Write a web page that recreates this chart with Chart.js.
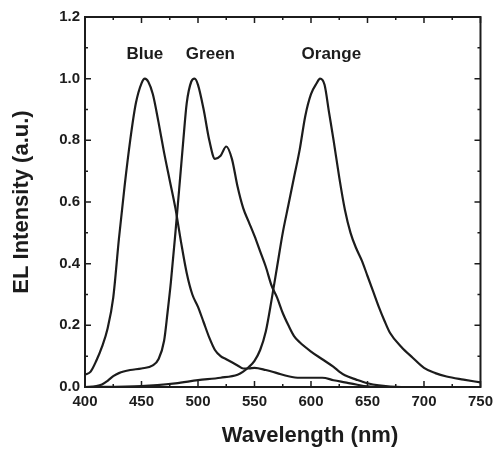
<!DOCTYPE html>
<html>
<head>
<meta charset="utf-8">
<script src="https://cdn.jsdelivr.net/npm/chart.js@4.4.1/dist/chart.umd.min.js"></script>
<style>
  html, body { margin: 0; padding: 0; background: #fff; }
  #wrap { width: 499px; height: 450px; }
</style>
</head>
<body>
<div id="wrap"><canvas id="elChart" width="499" height="450"></canvas></div>
<script>
// EL spectra (wavelength in nm, normalised intensity)
const blueNm = [400, 405, 410, 415, 420, 425, 430, 435, 440, 445, 450, 453, 456, 460, 465, 470, 475, 480, 485, 490, 495, 500, 505, 510, 515, 520, 525, 530, 535, 540, 545, 550, 560, 570, 580, 590, 600, 610, 620, 630, 640, 650, 660, 700, 750];
const blueVal = [0.04, 0.05, 0.085, 0.13, 0.19, 0.29, 0.48, 0.65, 0.80, 0.92, 0.985, 1.0, 0.99, 0.95, 0.86, 0.76, 0.67, 0.58, 0.47, 0.37, 0.30, 0.26, 0.21, 0.16, 0.12, 0.10, 0.09, 0.08, 0.07, 0.06, 0.06, 0.062, 0.055, 0.045, 0.035, 0.03, 0.03, 0.03, 0.022, 0.015, 0.008, 0.002, 0, 0, 0];

const greenNm = [400, 410, 415, 420, 425, 430, 440, 450, 460, 465, 470, 473, 476, 480, 484, 487, 490, 494, 497, 500, 505, 510, 515, 520, 525, 530, 535, 540, 545, 550, 555, 560, 565, 570, 575, 580, 585, 590, 600, 610, 620, 625, 630, 640, 650, 660, 680, 750];
const greenVal = [0, 0.003, 0.008, 0.02, 0.035, 0.045, 0.055, 0.06, 0.07, 0.09, 0.15, 0.24, 0.34, 0.50, 0.67, 0.80, 0.92, 0.99, 1.0, 0.98, 0.90, 0.80, 0.74, 0.75, 0.78, 0.74, 0.65, 0.58, 0.535, 0.49, 0.44, 0.39, 0.33, 0.29, 0.24, 0.20, 0.165, 0.145, 0.115, 0.09, 0.065, 0.05, 0.038, 0.024, 0.012, 0.005, 0, 0];

const orangeNm = [400, 450, 480, 500, 520, 535, 540, 545, 550, 555, 560, 565, 570, 575, 580, 585, 590, 595, 600, 605, 608, 612, 616, 620, 625, 630, 635, 640, 645, 650, 655, 660, 665, 670, 680, 690, 700, 710, 720, 735, 750];
const orangeVal = [0, 0.003, 0.012, 0.022, 0.03, 0.04, 0.05, 0.065, 0.085, 0.12, 0.18, 0.28, 0.39, 0.50, 0.59, 0.68, 0.77, 0.88, 0.95, 0.985, 1.0, 0.98, 0.89, 0.80, 0.68, 0.575, 0.50, 0.45, 0.41, 0.36, 0.31, 0.26, 0.215, 0.175, 0.13, 0.095, 0.062, 0.045, 0.034, 0.024, 0.015];

const xTicks = [400, 450, 500, 550, 600, 650, 700, 750];
const yTicks = [0, 0.2, 0.4, 0.6, 0.8, 1.0, 1.2];

const peakNames = ['Blue', 'Green', 'Orange'];
const peakNameNm = [453, 511, 618];
const peakNameY = 1.078;

const ink = '#1c1c1c';
const fontFamily = '"Liberation Sans", Arial, sans-serif';

function toPoints(xs, ys) {
    return xs.map((x, i) => ({ x: x, y: ys[i] }));
}

function lineSet(label, xs, ys) {
    return {
        label: label,
        data: toPoints(xs, ys),
        borderColor: ink,
        borderWidth: 2.2,
        pointRadius: 0,
        fill: false,
        cubicInterpolationMode: 'monotone'
    };
}

// frame with inward ticks on all four sides, plus the peak names and x title
const framePlugin = {
    id: 'frame',
    afterDraw(chart) {
        const ctx = chart.ctx;
        const { left, right, top, bottom } = chart.chartArea;
        const xs = chart.scales.x;
        const ys = chart.scales.y;
        ctx.save();
        ctx.strokeStyle = ink;
        ctx.lineWidth = 2;
        ctx.strokeRect(left, top, right - left, bottom - top);

        ctx.lineWidth = 1.5;
        xTicks.forEach((v, i) => {
            const px = xs.getPixelForValue(v);
            ctx.beginPath();
            ctx.moveTo(px, bottom); ctx.lineTo(px, bottom - 6);
            ctx.moveTo(px, top); ctx.lineTo(px, top + 6);
            ctx.stroke();
            if (i < xTicks.length - 1) {
                const mx = xs.getPixelForValue((v + xTicks[i + 1]) / 2);
                ctx.beginPath();
                ctx.moveTo(mx, bottom); ctx.lineTo(mx, bottom - 3);
                ctx.moveTo(mx, top); ctx.lineTo(mx, top + 3);
                ctx.stroke();
            }
        });
        yTicks.forEach((v, i) => {
            const py = ys.getPixelForValue(v);
            ctx.beginPath();
            ctx.moveTo(left, py); ctx.lineTo(left + 6, py);
            ctx.moveTo(right, py); ctx.lineTo(right - 6, py);
            ctx.stroke();
            if (i < yTicks.length - 1) {
                const my = ys.getPixelForValue((v + yTicks[i + 1]) / 2);
                ctx.beginPath();
                ctx.moveTo(left, my); ctx.lineTo(left + 3, my);
                ctx.moveTo(right, my); ctx.lineTo(right - 3, my);
                ctx.stroke();
            }
        });

        ctx.fillStyle = ink;
        ctx.textAlign = 'center';
        ctx.textBaseline = 'middle';
        ctx.font = 'bold 17px ' + fontFamily;
        peakNames.forEach((name, i) => {
            ctx.fillText(name, xs.getPixelForValue(peakNameNm[i]), ys.getPixelForValue(peakNameY));
        });

        ctx.font = 'bold 22px ' + fontFamily;
        ctx.fillText('Wavelength (nm)', left + 225, 436);
        ctx.restore();
    }
};

const ctx = document.getElementById('elChart').getContext('2d');

new Chart(ctx, {
    type: 'line',
    data: {
        datasets: [
            lineSet('Blue', blueNm, blueVal),
            lineSet('Green', greenNm, greenVal),
            lineSet('Orange', orangeNm, orangeVal)
        ]
    },
    options: {
        responsive: false,
        animation: false,
        events: [],
        layout: { padding: { top: 17, right: 14, left: 0, bottom: 0 } },
        plugins: {
            legend: { display: false },
            tooltip: { enabled: false }
        },
        scales: {
            x: {
                type: 'linear',
                min: 400,
                max: 750,
                afterBuildTicks: scale => { scale.ticks = xTicks.map(v => ({ value: v })); },
                afterFit: scale => { scale.height = 63; },
                grid: { display: false, drawTicks: false },
                border: { display: false },
                ticks: {
                    color: ink,
                    padding: 6,
                    maxRotation: 0,
                    font: { family: fontFamily, size: 15, weight: 'bold' },
                    callback: v => String(v)
                }
            },
            y: {
                type: 'linear',
                min: 0,
                max: 1.2,
                afterBuildTicks: scale => { scale.ticks = yTicks.map(v => ({ value: v })); },
                afterFit: scale => { scale.width = 85; },
                grid: { display: false, drawTicks: false },
                border: { display: false },
                ticks: {
                    color: ink,
                    padding: 5,
                    font: { family: fontFamily, size: 15, weight: 'bold' },
                    callback: v => v.toFixed(1)
                },
                title: {
                    display: true,
                    text: 'EL Intensity (a.u.)',
                    color: ink,
                    padding: { top: 9, bottom: 0 },
                    font: { family: fontFamily, size: 22, weight: 'bold' }
                }
            }
        }
    },
    plugins: [framePlugin]
});
</script>
</body>
</html>
